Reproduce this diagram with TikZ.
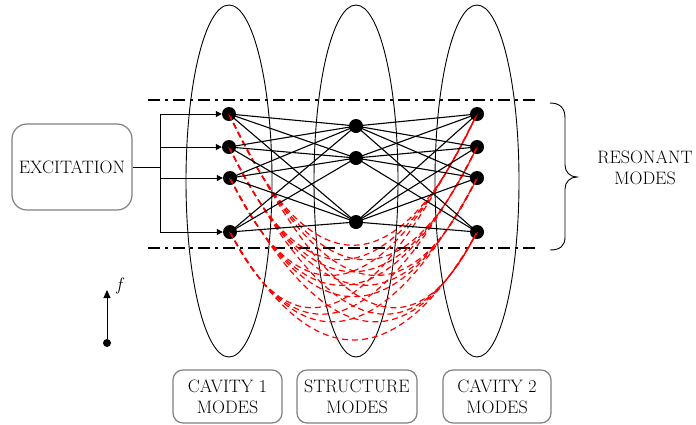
\documentclass[tikz,border=0pt]{standalone}
\usetikzlibrary{arrows.meta}
\begin{document}
\begin{tikzpicture}[x=1pt,y=-1pt,
  mode/.style={circle,fill=black,inner sep=0pt,minimum size=14pt},
  link/.style={line width=1.1pt},
  coupling/.style={red,line width=1.2pt,dash pattern=on 6pt off 4pt},
  cavity/.style={line width=0.9pt},
  level/.style={line width=1.8pt,dash pattern=on 12pt off 5pt on 3pt off 5pt},
  txt/.style={align=center,font=\fontsize{18}{21}\selectfont},
  labelbox/.style={txt,draw=black!50,line width=1.2pt,rounded corners=10pt,inner sep=0pt},
  feed/.style={line width=1pt,-{Triangle[length=6pt,width=6pt]}}]
\useasboundingbox (0,0) rectangle (696,424);

% cavity / structure ellipses
\draw[cavity] (229,181) ellipse [x radius=43, y radius=176];
\draw[cavity] (356,181) ellipse [x radius=42, y radius=176];
\draw[cavity] (477,181) ellipse [x radius=42, y radius=176];

% resonant band
\draw[level] (148,100) -- (536,100);
\draw[level] (148,248) -- (536,248);

% modes
\node[mode] (c1a) at (229,114) {};
\node[mode] (c1b) at (229,147) {};
\node[mode] (c1c) at (230,178) {};
\node[mode] (c1d) at (230,232) {};
\node[mode] (sa) at (356,126) {};
\node[mode] (sb) at (356,158) {};
\node[mode] (sc) at (356,222) {};
\node[mode] (c2a) at (477,114) {};
\node[mode] (c2b) at (477,147) {};
\node[mode] (c2c) at (477,178) {};
\node[mode] (c2d) at (477,232) {};

% red couplings cavity 1 -> cavity 2
\foreach \a/\ya in {a/114,b/147,c/178,d/232}{
  \foreach \b/\yb in {a/114,b/147,c/178,d/232}{
    \pgfmathsetmacro\k{175-0.263*((\ya+\yb)/2-114)}
    \draw[coupling] (c1\a.center) .. controls +(80,\k) and +(-80,\k) .. (c2\b.center);
  }
}

% black couplings through structure
\foreach \a in {a,b,c,d}{
  \foreach \s in {a,b,c}{
    \draw[link] (c1\a.center) -- (s\s.center);
    \draw[link] (s\s.center) -- (c2\a.center);
  }
}

% excitation
\node[labelbox,rounded corners=15pt,minimum width=120pt,minimum height=86pt] (exc) at (72,167) {EXCITATION};
\coordinate (busm) at (160,167);
\coordinate (busa) at (160,114);
\coordinate (busb) at (160,147);
\coordinate (busc) at (160,178);
\coordinate (busd) at (160,232);
\draw[line width=1pt] (exc.east) -- (busm);
\draw[line width=1pt] (busa) -- (busd);
\draw[feed] (busa) -- (c1a);
\draw[feed] (busb) -- (c1b);
\draw[feed] (busc) -- (c1c);
\draw[feed] (busd) -- (c1d);

% brace and label
\draw[line width=0.9pt] (550,103) .. controls (560,103) and (565,108) .. (565,118) -- (565,165)
  .. controls (565,172) and (570,177) .. (577,177)
  .. controls (570,177) and (565,182) .. (565,189) -- (565,237)
  .. controls (565,246) and (560,250) .. (550,250);
\node[txt] (res) at (645,168) {RESONANT\\MODES};

% frequency axis
\node[circle,fill=black,inner sep=0pt,minimum size=8pt] (fdot) at (107,343) {};
\coordinate (ftip) at (107,290);
\draw[line width=1pt,-{Triangle[length=8pt,width=7pt]}] (fdot) -- (ftip);
\node[txt] (flab) at (119,286) {\itshape f};

% bottom labels
\node[labelbox,minimum width=109pt,minimum height=53pt] (cav1) at (227.5,396.5) {CAVITY 1\\MODES};
\node[labelbox,minimum width=120pt,minimum height=53pt] (str) at (357,396.5) {STRUCTURE\\MODES};
\node[labelbox,minimum width=108pt,minimum height=53pt] (cav2) at (497,396.5) {CAVITY 2\\MODES};
\end{tikzpicture}
\end{document}
